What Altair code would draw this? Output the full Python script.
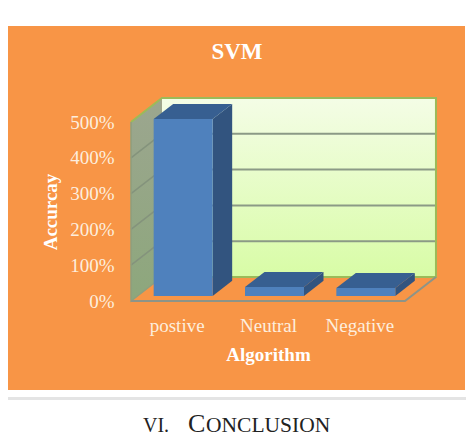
import altair as alt
import pandas as pd

categories = ["postive", "Neutral", "Negative"]
values = [494, 25, 22]
ticks = [0, 100, 200, 300, 400, 500]

SERIF = "Liberation Serif"
ORANGE = "#f89546"
LABEL = "#fdeede"

# depth of the 3-D box, in data units of the x and y scales
DX = 0.339
DY = 67
BAR_W = 0.646
BAR_D0, BAR_D1 = 0.21, 0.84

x_scale = alt.Scale(domain=[-0.5, 2.5], nice=False, zero=False)
y_scale = alt.Scale(domain=[0, 500], nice=False, zero=False)

label_expr = "{0:'%s',1:'%s',2:'%s'}[datum.value]" % tuple(categories)
x_axis = alt.Axis(values=[0, 1, 2], labelExpr=label_expr, title="Algorithm", grid=False,
                  domain=False, ticks=False, labelFont=SERIF, labelFontSize=19,
                  labelColor=LABEL, labelPadding=15, titleFont=SERIF, titleFontSize=19,
                  titleFontWeight="bold", titleColor="#ffffff", titlePadding=10, zindex=1)
y_axis = alt.Axis(values=ticks, labelExpr="datum.value + '%'", title="Accurcay", grid=False,
                  domain=False, ticks=False, labelFont=SERIF, labelFontSize=19,
                  labelColor=LABEL, labelPadding=17, titleFont=SERIF, titleFontSize=19,
                  titleFontWeight="bold", titleColor="#ffffff", titlePadding=9, zindex=1)


def X(f):
    return alt.X(f, type="quantitative", scale=x_scale, axis=x_axis)


def Y(f):
    return alt.Y(f, type="quantitative", scale=y_scale, axis=y_axis)


def canvas(color, left, right, top, bottom):
    return alt.Chart(pd.DataFrame({"a": [0]})).mark_rect(color=color).encode(
        x=alt.value(left), x2=alt.value(right), y=alt.value(top), y2=alt.value(bottom))


def label(text, px, py, size, **kw):
    return alt.Chart(pd.DataFrame({"t": [text]})).mark_text(
        font=SERIF, fontSize=size, baseline="alphabetic", **kw).encode(
        x=alt.value(px), y=alt.value(py), text="t:N")


back_grad = alt.LinearGradient(gradient="linear", x1=0, x2=0, y1=0, y2=1,
                               stops=[alt.GradientStop(offset=0, color="#f4fde6"),
                                      alt.GradientStop(offset=1, color="#d8fca6")])
side_grad = alt.LinearGradient(gradient="linear", x1=0, x2=0, y1=0, y2=1,
                               stops=[alt.GradientStop(offset=0, color="#9ca68f"),
                                      alt.GradientStop(offset=1, color="#8da77c")])

# walls and floor
back = pd.DataFrame({"x": [-0.5 + DX], "x2": [2.5 + DX], "y": [DY], "y2": [500 + DY]})
left = pd.DataFrame({"x": [-0.5, -0.5 + DX], "y": [0, DY], "y2": [500, 500 + DY]})
back_lines = pd.DataFrame({"x": [-0.5 + DX] * 4, "x2": [2.5 + DX] * 4,
                           "y": [DY + t for t in ticks[1:5]]})
left_lines = pd.DataFrame([{"g": t, "x": -0.5 + DX * d, "y": t + DY * d}
                           for t in ticks[1:5] for d in (0, 1)])
floor_line = pd.DataFrame({"x": [-0.5, 2.5, 2.5 + DX], "y": [0, 0, DY]})
frame = pd.DataFrame({"x": [-0.5, -0.5 + DX, 2.5 + DX, 2.5 + DX, -0.5 + DX],
                      "y": [500, 500 + DY, 500 + DY, DY, DY]})
left_edge = pd.DataFrame({"x": [-0.5, -0.5, -0.5 + DX], "y": [500, 0, DY]})

# bars
rows_front, rows_side, rows_top = [], [], []
for i, v in enumerate(values):
    l = i - BAR_W / 2 + DX * BAR_D0
    r = l + BAR_W
    bx = DX * (BAR_D1 - BAR_D0)
    y0 = DY * BAR_D0
    yb = DY * (BAR_D1 - BAR_D0)
    rows_front.append({"x": l, "x2": r, "y": y0, "y2": y0 + v})
    rows_side += [{"g": i, "x": r, "y": y0, "y2": y0 + v},
                  {"g": i, "x": r + bx, "y": y0 + yb, "y2": y0 + v + yb}]
    rows_top += [{"g": i, "x": l, "y": y0 + v, "y2": y0 + v},
                 {"g": i, "x": l + bx, "y": y0 + v, "y2": y0 + v + yb},
                 {"g": i, "x": r, "y": y0 + v, "y2": y0 + v + yb},
                 {"g": i, "x": r + bx, "y": y0 + v + yb, "y2": y0 + v + yb}]

layers = [
    canvas("#ffffff", -123, 335, -114, 316),
    canvas("#e4e4e4", -123, 335, 275, 278),
    canvas(ORANGE, -123, 334, -96, 268),
    alt.Chart(back).mark_rect(color=back_grad).encode(x=X("x"), x2="x2", y=Y("y"), y2="y2"),
    alt.Chart(left).mark_area(color=side_grad, orient="vertical").encode(x=X("x"), y=Y("y"), y2="y2"),
    alt.Chart(back_lines).mark_rule(color="#8b9a86", strokeWidth=2).encode(x=X("x"), x2="x2", y=Y("y")),
    alt.Chart(left_lines).mark_line(color="#84937c", strokeWidth=1.5).encode(x=X("x"), y=Y("y"), detail="g:N"),
    alt.Chart(frame).mark_line(color="#9bbb59", strokeWidth=2, order=False).encode(x=X("x"), y=Y("y")),
    alt.Chart(left_edge).mark_line(color="#8f9f7e", strokeWidth=1.5, order=False).encode(x=X("x"), y=Y("y")),
    alt.Chart(floor_line).mark_line(color="#8d9488", strokeWidth=2, order=False).encode(x=X("x"), y=Y("y")),
    alt.Chart(pd.DataFrame(rows_side)).mark_area(color="#32547f", orient="vertical").encode(
        x=X("x"), y=Y("y"), y2="y2", detail="g:N"),
    alt.Chart(pd.DataFrame(rows_top)).mark_area(color="#375f91", orient="vertical").encode(
        x=X("x"), y=Y("y"), y2="y2", detail="g:N"),
    alt.Chart(pd.DataFrame(rows_front)).mark_rect(color="#4f81bd").encode(
        x=X("x"), x2="x2", y=Y("y"), y2="y2"),
    label("SVM", 106, -63, 23, color="#ffffff", fontWeight="bold", align="center"),
    label("VI.", 12, 310, 20, color="#222222", align="left"),
    label("C", 57, 310, 26, color="#222222", align="left"),
    label("ONCLUSION", 75, 310, 21.5, color="#222222", align="left"),
]

chart = alt.layer(*layers).properties(
    width=274, height=179, padding=0, background="#ffffff"
).configure_view(stroke=None)

chart.save("out.html", embed_options={"renderer": "svg", "actions": False})
